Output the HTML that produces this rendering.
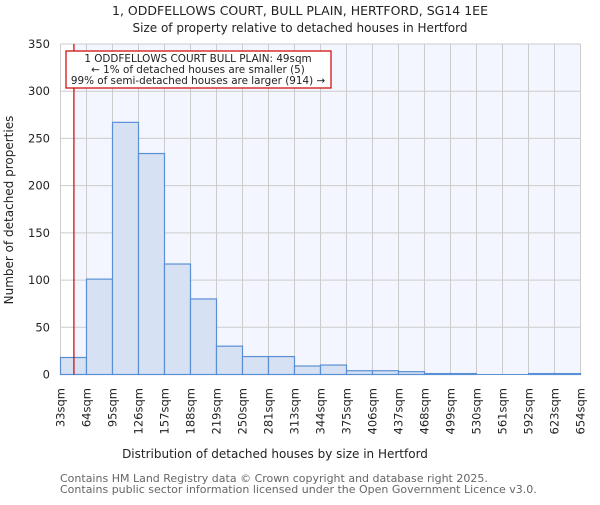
<!DOCTYPE html>
<html><head><meta charset="utf-8"><style>
body{margin:0;background:#fff;}
svg text{font-family:"DejaVu Sans","Liberation Sans",sans-serif;fill:#222;}
</style></head><body>
<svg width="600" height="500" xmlns="http://www.w3.org/2000/svg">
<text x="300" y="15" text-anchor="middle" font-size="12.5">1, ODDFELLOWS COURT, BULL PLAIN, HERTFORD, SG14 1EE</text>
<text x="300" y="32" text-anchor="middle" font-size="12">Size of property relative to detached houses in Hertford</text>
<rect x="60.5" y="44" width="520" height="330.5" fill="#f3f6fe"/>
<rect x="60.5" y="44" width="13" height="330.5" fill="#ffffff"/>
<g id="grid"></g>
<g id="bars"></g>
<g id="yticks"></g>
<g id="xticks"></g>
<line id="marker" y1="44" y2="374.5" stroke="#cc0000" stroke-width="1.2"/>
<rect x="66" y="51" width="265" height="37" fill="#fff" stroke="#cc0000" stroke-width="1.2"/>
<text x="198" y="62" text-anchor="middle" font-size="10.4">1 ODDFELLOWS COURT BULL PLAIN: 49sqm</text>
<text x="198" y="73" text-anchor="middle" font-size="10.4">← 1% of detached houses are smaller (5)</text>
<text x="198" y="84" text-anchor="middle" font-size="10.4">99% of semi-detached houses are larger (914) →</text>
<text x="275" y="458" text-anchor="middle" font-size="12">Distribution of detached houses by size in Hertford</text>
<text transform="translate(13,210) rotate(-90)" text-anchor="middle" font-size="12">Number of detached properties</text>
<text x="60" y="482" font-size="11" style="fill:#666">Contains HM Land Registry data © Crown copyright and database right 2025.</text>
<text x="60" y="493" font-size="11" style="fill:#666">Contains public sector information licensed under the Open Government Licence v3.0.</text>
<script>
const binLabels=["33sqm","64sqm","95sqm","126sqm","157sqm","188sqm","219sqm","250sqm","281sqm","313sqm","344sqm","375sqm","406sqm","437sqm","468sqm","499sqm","530sqm","561sqm","592sqm","623sqm","654sqm"];
const counts=[18,101,267,234,117,80,30,19,19,9,10,4,4,3,1,1,0,0,1,1];
const yTicks=[0,50,100,150,200,250,300,350];
const propertySize=49;
const binStart=33, binWidth=31;
const NS="http://www.w3.org/2000/svg";
const x0=60.5,x1=580.5,yBot=374.5,yTop=44,yMax=350;
const nb=counts.length;
function xs(i){return x0+(x1-x0)*i/nb;}
function xv(v){return x0+(v-binStart)/binWidth*(x1-x0)/nb;}
function ys(v){return yBot-(yBot-yTop)*v/yMax;}
function mk(tag,attrs,parent){const e=document.createElementNS(NS,tag);for(const k in attrs)e.setAttribute(k,attrs[k]);parent.appendChild(e);return e;}
const grid=document.getElementById('grid'),bars=document.getElementById('bars'),yt=document.getElementById('yticks'),xt=document.getElementById('xticks');
yTicks.forEach(v=>{
  const l=mk('line',{x1:x0,x2:x1,y1:ys(v),y2:ys(v),stroke:'#cccccc','stroke-width':1},grid);
  
  
  const t=mk('text',{x:50,y:ys(v)+4,'text-anchor':'end','font-size':11.5},yt);
  t.textContent=v;
  
  
});
binLabels.forEach((lab,i)=>{
  const x=xs(i);
  const l=mk('line',{x1:x,x2:x,y1:yTop,y2:yBot,stroke:'#cccccc','stroke-width':1},grid);
  
  
  const t=mk('text',{transform:`translate(${x+4},388) rotate(-90)`,'text-anchor':'end','font-size':11.5},xt);
  t.textContent=lab;
  
  
});
counts.forEach((c,i)=>{
  if(c<=0)return;
  const r=mk('rect',{x:xs(i),y:ys(c),width:xs(i+1)-xs(i),height:yBot-ys(c),fill:'#d6e1f3',stroke:'#5b8fd4','stroke-width':1.2},bars);
  
  
});
const bl=mk('line',{x1:x0,x2:x1,y1:yBot,y2:yBot,stroke:'#5b8fd4','stroke-width':1},bars);


const m=document.getElementById('marker');
m.setAttribute('x1',xv(propertySize));m.setAttribute('x2',xv(propertySize));
</script>
</svg>
</body></html>
